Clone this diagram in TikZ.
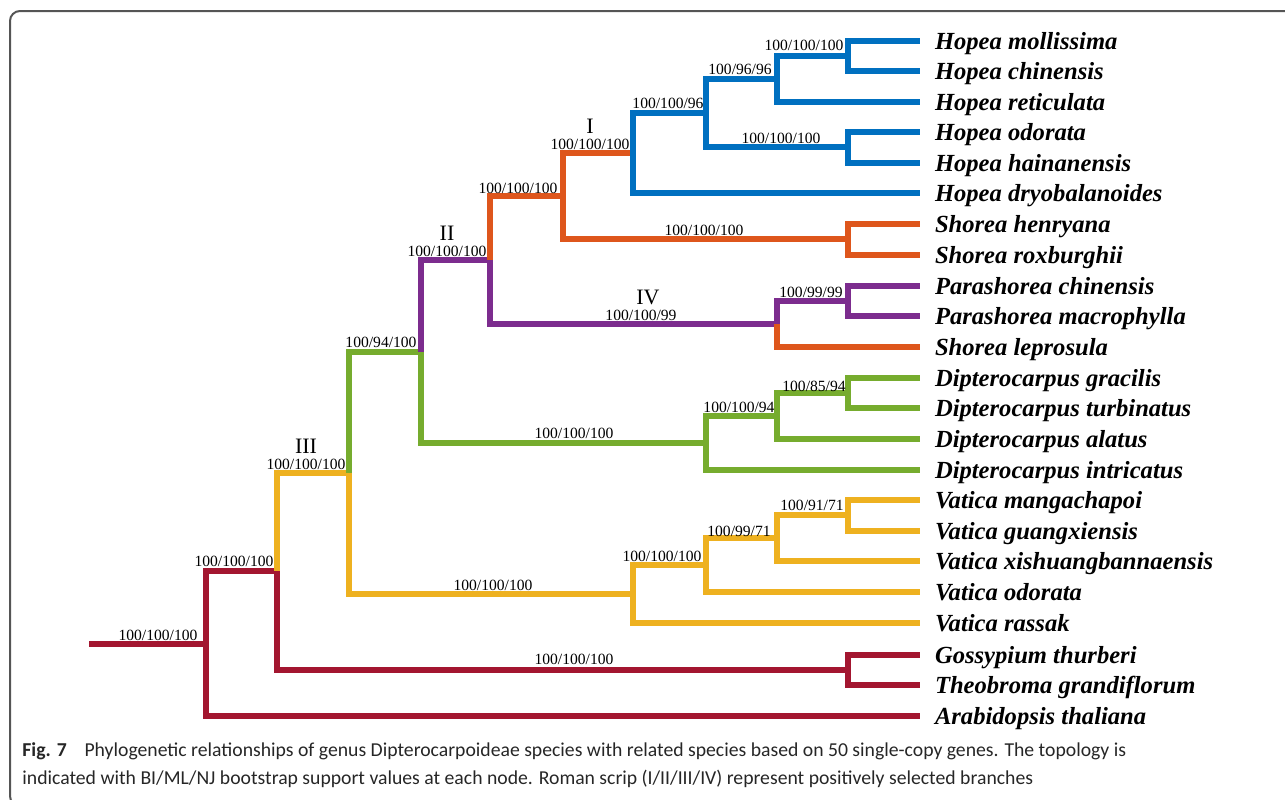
\documentclass[tikz,border=0pt]{standalone}
\usepackage{fontspec}
\setmainfont{Liberation Serif}
\newfontfamily\capfont{Carlito}
\usepackage{tikz}
\usetikzlibrary{positioning}
\definecolor{hopeablue}{RGB}{0,112,192}
\definecolor{shoreaorange}{RGB}{222,86,28}
\definecolor{parapurple}{RGB}{124,44,142}
\definecolor{diptgreen}{RGB}{118,172,46}
\definecolor{vaticayellow}{RGB}{238,177,32}
\definecolor{outred}{RGB}{163,22,48}
\definecolor{framegray}{RGB}{85,85,85}
\tikzset{
  branch/.style={line width=2.9pt, line join=miter, line cap=butt},
  taxon/.style={
    anchor=west, inner xsep=7.5pt, inner ysep=0pt, outer sep=0pt,
    text height=10pt, text depth=2pt,
    font=\fontsize{12.3}{14}\selectfont\bfseries\itshape
  },
  support/.style={inner sep=0pt, font=\fontsize{7.8}{9}\selectfont},
  clade/.style={inner sep=0pt, font=\fontsize{11}{12}\selectfont},
  caption/.style={anchor=base west, inner sep=0pt, text=black!85,
    font=\capfont\fontsize{9.85}{12}\selectfont},
}

\begin{document}
\begin{tikzpicture}[x=0.5pt, y=-0.5pt]
  \useasboundingbox (0,0) rectangle (1285,799);
  \clip (0,0) rectangle (1285,799);
  \draw[framegray, line width=1pt, rounded corners=5pt] (1300,11) -- (10,11) -- (10,806) -- (40,806);

  % internal nodes
  \coordinate (stub) at (89,644);
  \coordinate (root) at (206,644);
  \coordinate (na) at (277,571);
  \coordinate (nb) at (349,473);
  \coordinate (ngt) at (848,670);
  \coordinate (nc) at (421,352);
  \coordinate (nv1) at (633,594);
  \coordinate (nv2) at (706,565);
  \coordinate (nv3) at (777,538);
  \coordinate (nv4) at (848,515);
  \coordinate (nd) at (490,260);
  \coordinate (ng1) at (706,443);
  \coordinate (ng2) at (777,416);
  \coordinate (ng3) at (848,393);
  \coordinate (ne) at (563,196);
  \coordinate (np1) at (777,324);
  \coordinate (np2) at (848,301);
  \coordinate (nh1) at (633,153);
  \coordinate (ns1) at (848,239);
  \coordinate (nh2) at (706,113);
  \coordinate (nh3) at (777,79);
  \coordinate (nh4) at (848,147);
  \coordinate (nh5) at (848,56);

  % taxa
  \node[taxon] (hmol) at (920,41) {Hopea mollissima};
  \node[taxon] (hchi) at (920,71) {Hopea chinensis};
  \node[taxon] (hret) at (920,102) {Hopea reticulata};
  \node[taxon] (hodo) at (920,132) {Hopea odorata};
  \node[taxon] (hhai) at (920,163) {Hopea hainanensis};
  \node[taxon] (hdry) at (920,193) {Hopea dryobalanoides};
  \node[taxon] (shen) at (920,224) {Shorea henryana};
  \node[taxon] (srox) at (920,255) {Shorea roxburghii};
  \node[taxon] (pchi) at (920,286) {Parashorea chinensis};
  \node[taxon] (pmac) at (920,316) {Parashorea macrophylla};
  \node[taxon] (slep) at (920,347) {Shorea leprosula};
  \node[taxon] (dgra) at (920,378) {Dipterocarpus gracilis};
  \node[taxon] (dtur) at (920,408) {Dipterocarpus turbinatus};
  \node[taxon] (dala) at (920,439) {Dipterocarpus alatus};
  \node[taxon] (dint) at (920,470) {Dipterocarpus intricatus};
  \node[taxon] (vman) at (920,500) {Vatica mangachapoi};
  \node[taxon] (vgua) at (920,531) {Vatica guangxiensis};
  \node[taxon] (vxis) at (920,561) {Vatica xishuangbannaensis};
  \node[taxon] (vodo) at (920,592) {Vatica odorata};
  \node[taxon] (vras) at (920,623) {Vatica rassak};
  \node[taxon] (gthu) at (920,655) {Gossypium thurberi};
  \node[taxon] (tgra) at (920,685) {Theobroma grandiflorum};
  \node[taxon] (atha) at (920,716) {Arabidopsis thaliana};

  % branches
  \draw[branch, outred] (stub) -- (root);
  \draw[branch, outred] (root) |- (na);
  \draw[branch, outred] (root) |- (atha.west);
  \draw[branch, outred] (na) |- (ngt);
  \draw[branch, outred] (ngt) |- (gthu.west);
  \draw[branch, outred] (ngt) |- (tgra.west);
  \draw[branch, vaticayellow] (na) |- (nb);
  \draw[branch, vaticayellow] (nb) |- (nv1);
  \draw[branch, vaticayellow] (nv1) |- (nv2);
  \draw[branch, vaticayellow] (nv1) |- (vras.west);
  \draw[branch, vaticayellow] (nv2) |- (nv3);
  \draw[branch, vaticayellow] (nv2) |- (vodo.west);
  \draw[branch, vaticayellow] (nv3) |- (nv4);
  \draw[branch, vaticayellow] (nv3) |- (vxis.west);
  \draw[branch, vaticayellow] (nv4) |- (vman.west);
  \draw[branch, vaticayellow] (nv4) |- (vgua.west);
  \draw[branch, diptgreen] (nb) |- (nc);
  \draw[branch, diptgreen] (nc) |- (ng1);
  \draw[branch, diptgreen] (ng1) |- (ng2);
  \draw[branch, diptgreen] (ng1) |- (dint.west);
  \draw[branch, diptgreen] (ng2) |- (ng3);
  \draw[branch, diptgreen] (ng2) |- (dala.west);
  \draw[branch, diptgreen] (ng3) |- (dgra.west);
  \draw[branch, diptgreen] (ng3) |- (dtur.west);
  \draw[branch, parapurple] (nc) |- (nd);
  \draw[branch, parapurple] (nd) |- (np1);
  \draw[branch, parapurple] (np1) |- (np2);
  \draw[branch, parapurple] (np2) |- (pchi.west);
  \draw[branch, parapurple] (np2) |- (pmac.west);
  \draw[branch, shoreaorange] (np1) |- (slep.west);
  \draw[branch, shoreaorange] (nd) |- (ne);
  \draw[branch, shoreaorange] (ne) |- (ns1);
  \draw[branch, shoreaorange] (ns1) |- (shen.west);
  \draw[branch, shoreaorange] (ns1) |- (srox.west);
  \draw[branch, shoreaorange] (ne) |- (nh1);
  \draw[branch, hopeablue] (nh1) |- (nh2);
  \draw[branch, hopeablue] (nh1) |- (hdry.west);
  \draw[branch, hopeablue] (nh2) |- (nh3);
  \draw[branch, hopeablue] (nh2) |- (nh4);
  \draw[branch, hopeablue] (nh3) |- (nh5);
  \draw[branch, hopeablue] (nh3) |- (hret.west);
  \draw[branch, hopeablue] (nh4) |- (hodo.west);
  \draw[branch, hopeablue] (nh4) |- (hhai.west);
  \draw[branch, hopeablue] (nh5) |- (hmol.west);
  \draw[branch, hopeablue] (nh5) |- (hchi.west);

  % support values
  \node[support] (sroot) at (158,635) {100/100/100};
  \node[support] (sa) at (234,561) {100/100/100};
  \node[support] (sgt) at (574,659) {100/100/100};
  \node[support] (sb) at (306,464) {100/100/100};
  \node[support] (sv) at (493,585) {100/100/100};
  \node[support] (sv1) at (662,556) {100/100/100};
  \node[support] (sv2) at (739,531) {100/99/71};
  \node[support] (sv3) at (812,505) {100/91/71};
  \node[support] (sc) at (381,342) {100/94/100};
  \node[support] (sg) at (574,433) {100/100/100};
  \node[support] (sg1) at (739,407) {100/100/94};
  \node[support] (sg2) at (814,386) {100/85/94};
  \node[support] (sd) at (447,251) {100/100/100};
  \node[support] (sp) at (641,315) {100/100/99};
  \node[support] (sp1) at (811,292) {100/99/99};
  \node[support] (se) at (518,188) {100/100/100};
  \node[support] (ss) at (704,230) {100/100/100};
  \node[support] (sh1) at (590,144) {100/100/100};
  \node[support] (sh2) at (668,103) {100/100/96};
  \node[support] (sh3) at (740,69) {100/96/96};
  \node[support] (sh5) at (804,45) {100/100/100};
  \node[support] (sh4) at (781,138) {100/100/100};

  % selected branches
  \node[clade, above=2pt of sh1] (cI) {I};
  \node[clade, above=2pt of sd] (cII) {II};
  \node[clade, above=2pt of sb] (cIII) {III};
  \node[clade, above=2pt of sp, xshift=3.5pt] (cIV) {IV};

  % caption
  \node[caption] (cap1) at (22,756) {\textbf{Fig. 7}\hspace{0.9em}Phylogenetic relationships of genus Dipterocarpoideae species with related species based on 50 single-copy genes. The topology is};
  \node[caption] (cap2) at (22,784) {indicated with BI/ML/NJ bootstrap support values at each node. Roman scrip (I/II/III/IV) represent positively selected branches};
\end{tikzpicture}
\end{document}
